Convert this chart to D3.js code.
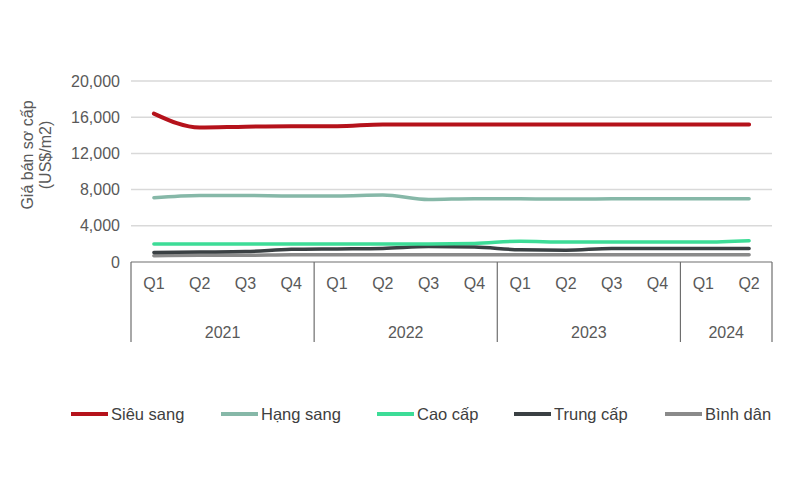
<!DOCTYPE html>
<html><head><meta charset="utf-8">
<script src="https://cdn.jsdelivr.net/npm/d3@7"></script>
<style>body{margin:0;background:#fff}svg{display:block;font-family:"Liberation Sans",Arial,sans-serif}</style>
</head><body><svg id="c" width="800" height="500"></svg>
<script>
const years = ["2021","2021","2021","2021","2022","2022","2022","2022","2023","2023","2023","2023","2024","2024"];
const quarters = ["Q1","Q2","Q3","Q4","Q1","Q2","Q3","Q4","Q1","Q2","Q3","Q4","Q1","Q2"];
const yearGroups = ["2021","2022","2023","2024"];
const yTicks = [0,4000,8000,12000,16000,20000];
const seriesNames = ["Siêu sang","Hạng sang","Cao cấp","Trung cấp","Bình dân"];
const sieuSang = [16400,14850,14950,15000,15000,15200,15200,15200,15200,15200,15200,15200,15200,15200];
const hangSang = [7100,7350,7350,7300,7300,7400,6900,7000,7000,6950,7000,7000,7000,7000];
const caoCap   = [2000,2000,2000,2000,2000,2000,2000,2050,2300,2200,2200,2200,2200,2350];
const trungCap = [1050,1100,1150,1400,1450,1500,1700,1650,1350,1300,1500,1500,1500,1500];
const binhDan  = [700,750,750,800,800,800,800,800,800,800,800,800,800,800];
const colors = ["#b5121b","#86b8a8","#3ddc97","#3a4043","#8a8a8a"];

(function(){
const svg = d3.select("#c");
const mL = 131, mR = 772, mT = 81, mB = 262;
const idx = d3.range(quarters.length);
const x = d3.scaleBand().domain(idx).range([mL, mR]);
const y = d3.scaleLinear().domain([0,20000]).range([mB, mT]);
const textCol = "#595959";

svg.append("g").selectAll("line").data(yTicks.filter(d=>d>0)).join("line")
  .attr("x1", mL).attr("x2", mR).attr("y1", d=>y(d)).attr("y2", d=>y(d))
  .attr("stroke","#d9d9d9").attr("stroke-width",1.5);

svg.append("g").selectAll("text").data(yTicks).join("text")
  .attr("x", 120).attr("y", d=>y(d)).attr("dy","0.35em").attr("text-anchor","end")
  .attr("font-size",16).attr("fill",textCol).text(d=>d3.format(",")(d));

const yt = svg.append("text").attr("transform","translate(36,155) rotate(-90)")
  .attr("text-anchor","middle").attr("font-size",16).attr("fill",textCol);
yt.append("tspan").attr("x",0).attr("dy","-0.2em").text("Giá bán sơ cấp");
yt.append("tspan").attr("x",0).attr("dy","1.15em").text("(US$/m2)");

const axisCol = "#6e6e6e";
svg.append("line").attr("x1",mL).attr("x2",mR).attr("y1",mB).attr("y2",mB)
  .attr("stroke",axisCol).attr("stroke-width",1.2);
const groupStarts = yearGroups.map(g=>years.indexOf(g));
const groupEnds = yearGroups.map(g=>years.lastIndexOf(g));
const dividers = groupStarts.map(i=>x(i)).concat([mR]);
svg.append("g").selectAll("line").data(dividers).join("line")
  .attr("x1",d=>d).attr("x2",d=>d).attr("y1",mB).attr("y2",342)
  .attr("stroke",axisCol).attr("stroke-width",1.2);
svg.append("g").selectAll("text").data(idx).join("text")
  .attr("x",i=>x(i)+x.bandwidth()/2).attr("y",283).attr("dy","0.35em")
  .attr("text-anchor","middle").attr("font-size",16).attr("fill",textCol).text(i=>quarters[i]);
svg.append("g").selectAll("text").data(yearGroups).join("text")
  .attr("x",(g,k)=>(x(groupStarts[k]) + x(groupEnds[k]) + x.bandwidth())/2).attr("y",332).attr("dy","0.35em")
  .attr("text-anchor","middle").attr("font-size",16).attr("fill",textCol).text(g=>g);

const allSeries = [sieuSang,hangSang,caoCap,trungCap,binhDan];
const line = d3.line().x((d,i)=>x(i)+x.bandwidth()/2).y(d=>y(d)).curve(d3.curveMonotoneX);
const drawOrder = [4,3,2,1,0];
svg.append("g").selectAll("path").data(drawOrder).join("path")
  .attr("d",k=>line(allSeries[k])).attr("fill","none")
  .attr("stroke",k=>colors[k]).attr("stroke-width",k=>k===0?4:3.5)
  .attr("stroke-linecap","round");

const legX = [71,221,377,514,665];
const lg = svg.append("g").selectAll("g").data(seriesNames).join("g")
  .attr("transform",(d,i)=>`translate(${legX[i]},414)`);
lg.append("line").attr("x1",0).attr("x2",37).attr("y1",0).attr("y2",0)
  .attr("stroke",(d,i)=>colors[i]).attr("stroke-width",4);
lg.append("text").attr("x",40).attr("dy","0.35em").attr("font-size",16.5)
  .attr("fill","#404040").text(d=>d);
})();
</script></body></html>
